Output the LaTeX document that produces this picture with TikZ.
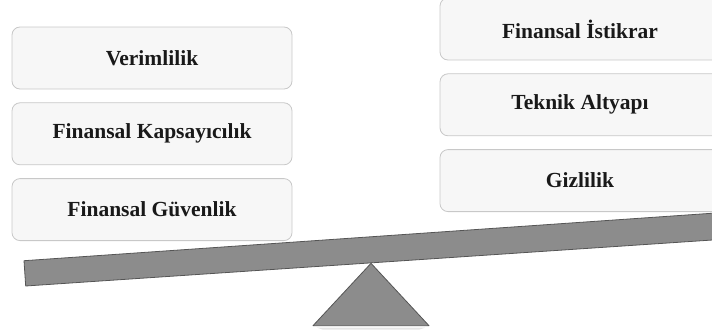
\documentclass[tikz,border=0pt]{standalone}
\usepackage{fontspec}
\setmainfont{Liberation Serif}
\usetikzlibrary{positioning, calc}
\definecolor{boxfill}{RGB}{247, 247, 247}
\definecolor{boxline}{RGB}{200, 200, 200}
\definecolor{beamgray}{RGB}{140, 140, 140}
\definecolor{beamline}{RGB}{85, 85, 85}
\definecolor{textdark}{RGB}{25, 25, 25}

\begin{document}
\begin{tikzpicture}[
    x=1pt, y=1pt,
    factor/.style={rectangle, draw=boxline, fill=boxfill, line width=0.8pt, minimum width=280pt, minimum height=62pt, rounded corners=8pt, align=center, text=textdark, font=\fontsize{21.5}{24}\selectfont\bfseries},
    beam/.style={draw=beamline, fill=beamgray, line width=0.8pt, line join=round}
]
    \useasboundingbox (0,0) rectangle (712,333);
    \clip (0,0) rectangle (712,333);

    % Left side
    \node[factor] (eff) at (152, 275) {Verimlilik};
    \node[factor, below=13pt of eff] (incl) {Finansal Kapsayıcılık};
    \node[factor, below=13pt of incl] (sec) {Finansal Güvenlik};

    % Right side
    \node[factor] (stab) at (580, 304) {Finansal İstikrar};
    \node[factor, below=13pt of stab] (infra) {Teknik Altyapı};
    \node[factor, below=13pt of infra] (priv) {Gizlilik};

    % Fulcrum
    \coordinate (apex) at (371, 69.7);
    \coordinate (baseL) at (313, 7.3);
    \coordinate (baseR) at (429, 7.3);
    \fill[black!10] ($(baseL)+(4,-2)$) -- ($(baseR)+(-4,-2)$) -- ($(baseR)+(-10,-4)$) -- ($(baseL)+(10,-4)$) -- cycle;
    \draw[beam] (apex) -- (baseR) -- (baseL) -- cycle;

    % Beam
    \draw[beam] (24, 72.3) -- (720, 120.3) -- (720, 93.5) -- (25.7, 47) -- cycle;
\end{tikzpicture}
\end{document}
